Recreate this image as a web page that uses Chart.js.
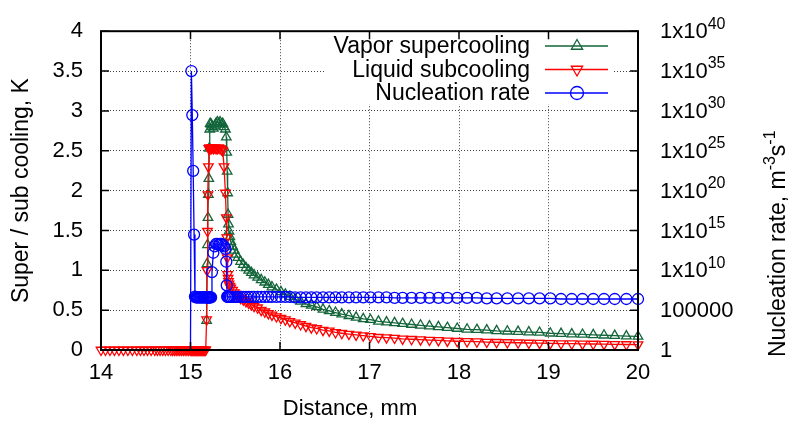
<!DOCTYPE html>
<html lang="en">
<head>
<meta charset="UTF-8">
<title>Super / sub cooling and nucleation rate</title>
<style>
  html, body { margin: 0; padding: 0; background: #ffffff; }
</style>
</head>
<body>
<canvas id="coolChart" width="790" height="421"></canvas>

<script src="https://cdn.jsdelivr.net/npm/chart.js@4.4.1/dist/chart.umd.min.js"></script>
<script>
  // distance along the nozzle, mm (mesh is refined around the condensation front)
  const distance = [
    14.00, 14.05, 14.10, 14.15, 14.20, 14.25, 14.30, 14.35, 14.40, 14.44,
    14.48, 14.52, 14.56, 14.60, 14.63, 14.66, 14.69, 14.72, 14.75, 14.78,
    14.80, 14.82, 14.84, 14.86, 14.88, 14.90, 14.92, 14.94, 14.96, 14.98,
    15.00, 15.01, 15.02, 15.03, 15.04, 15.05, 15.06, 15.07, 15.08, 15.09,
    15.10, 15.11, 15.12, 15.13, 15.14, 15.15, 15.16, 15.17, 15.18,
    15.185, 15.19, 15.195, 15.20, 15.205, 15.21, 15.215, 15.22,
    15.23, 15.24, 15.255, 15.27, 15.285, 15.30, 15.315, 15.33, 15.345, 15.36,
    15.375, 15.39, 15.40, 15.405, 15.41, 15.415, 15.42, 15.425, 15.43, 15.44,
    15.45, 15.47, 15.49, 15.51, 15.53, 15.56, 15.59, 15.62, 15.65, 15.68,
    15.71, 15.75, 15.79, 15.83, 15.87, 15.91, 15.96, 16.01, 16.06, 16.11,
    16.17, 16.23, 16.29, 16.35, 16.41, 16.48, 16.55, 16.62, 16.69, 16.77,
    16.85, 16.93, 17.01, 17.10, 17.19, 17.28, 17.37, 17.47, 17.57, 17.67,
    17.77, 17.87, 17.98, 18.09, 18.20, 18.31, 18.42, 18.54, 18.66, 18.78,
    18.90, 19.02, 19.14, 19.26, 19.38, 19.50, 19.62, 19.74, 19.87, 20.00
  ];

  // K
  const vaporSupercooling = [
    null, null, null, null, null, null, null, null, null, null,
    null, null, null, null, null, null, null, null, null, null,
    null, null, null, null, null, null, null, null, null, null,
    null, null, null, null, null, null, null, null, null, null,
    null, null, null, null, null, null, null, null, 0.37,
    1.08, 1.32, 1.66, 1.95, 2.15, 2.53, 2.77, 2.84,
    2.83, 2.80, 2.78, 2.81, 2.84, 2.86, 2.84, 2.86, 2.83, 2.84,
    2.80, 2.77, 2.67, 2.48, 2.24, 1.97, 1.70, 1.58, 1.49, 1.42,
    1.36, 1.30, 1.25, 1.20, 1.16, 1.11, 1.07, 1.03, 1.00, 0.97,
    0.94, 0.91, 0.88, 0.85, 0.82, 0.79, 0.76, 0.73, 0.70, 0.67,
    0.64, 0.61, 0.58, 0.56, 0.54, 0.51, 0.49, 0.47, 0.45, 0.43,
    0.41, 0.39, 0.38, 0.36, 0.35, 0.34, 0.33, 0.32, 0.31, 0.30,
    0.29, 0.28, 0.27, 0.26, 0.255, 0.25, 0.24, 0.235, 0.23, 0.225,
    0.22, 0.21, 0.205, 0.20, 0.195, 0.19, 0.185, 0.18, 0.175, 0.17
  ];

  // K
  const liquidSubcooling = [
    0, 0, 0, 0, 0, 0, 0, 0, 0, 0,
    0, 0, 0, 0, 0, 0, 0, 0, 0, 0,
    0, 0, 0, 0, 0, 0, 0, 0, 0, 0,
    0, 0, 0, 0, 0, 0, 0, 0, 0, 0,
    0, 0, 0, 0, 0, 0, 0, 0, 0.38,
    1.00, 1.49, 1.95, 2.30, 2.53, 2.53, 2.54, 2.53,
    2.53, 2.54, 2.53, 2.54, 2.53, 2.53, 2.54, 2.53, 2.52, 2.50,
    2.30, 1.97, 1.66, 1.41, 1.16, 0.95, 0.90, 0.86, 0.83, 0.80,
    0.78, 0.75, 0.72, 0.70, 0.68, 0.65, 0.63, 0.61, 0.59, 0.57,
    0.55, 0.53, 0.50, 0.48, 0.46, 0.44, 0.42, 0.40, 0.38, 0.36,
    0.34, 0.32, 0.30, 0.28, 0.27, 0.25, 0.24, 0.22, 0.21, 0.20,
    0.19, 0.18, 0.17, 0.16, 0.155, 0.15, 0.14, 0.135, 0.13, 0.125,
    0.12, 0.115, 0.11, 0.107, 0.104, 0.10, 0.097, 0.094, 0.091, 0.088,
    0.086, 0.083, 0.081, 0.079, 0.077, 0.075, 0.073, 0.071, 0.069, 0.067
  ];

  // m^-3 s^-1
  const nucleationRate = [
    null, null, null, null, null, null, null, null, null, null,
    null, null, null, null, null, null, null, null, null, null,
    null, null, null, null, null, null, null, null, null, null,
    1, 1e35, 3e29, 3e22, 3e14, 5e6, 4e6, 4e6, 4e6, 4e6,
    4e6, 4e6, 4e6, 4e6, 4e6, 4e6, 4e6, 4e6, 4e6,
    4e6, 4e6, 4e6, 4e6, 4e6, 4e6, 4e6, 4e6,
    4e6, 6e9, 1.6e12, 1e13, 2e13, 2e13, 1.5e13, 2e13, 2e13, 1.5e13,
    1e13, 5e12, 1.2e11, 1.3e8, 5e6, 4.5e6, 4.5e6, 4.5e6, 4.5e6, 4.5e6,
    4.5e6, 4.5e6, 4.5e6, 4.5e6, 4.5e6, 4.5e6, 4.5e6, 4.5e6, 4.5e6, 4.5e6,
    4.5e6, 4.5e6, 4.5e6, 4.5e6, 4.5e6, 4.5e6, 4.5e6, 4.5e6, 4.5e6, 4.5e6,
    4e6, 4e6, 4e6, 4e6, 4e6, 4e6, 4e6, 4e6, 4e6, 4e6,
    4e6, 4e6, 4e6, 4e6, 4e6, 3.5e6, 3.5e6, 3.5e6, 3.5e6, 3.5e6,
    3.5e6, 3.5e6, 3.5e6, 3.5e6, 3.5e6, 3e6, 3e6, 3e6, 3e6, 3e6,
    3e6, 3e6, 2.5e6, 2.5e6, 2.5e6, 2.5e6, 2.5e6, 2.5e6, 2.5e6, 2.5e6
  ];

  const nucleationTicks = [1, 1e5, 1e10, 1e15, 1e20, 1e25, 1e30, 1e35, 1e40];

  const FONT = "'Liberation Sans', Arial, Helvetica, sans-serif";
  const GREEN = '#13653a';

  function toPoints(values) {
    return distance.map((x, i) => ({ x: x, y: values[i] })).filter(p => p.y !== null);
  }

  function drawMarker(ctx, style, rotation, x, y, r) {
    ctx.beginPath();
    if (style === 'circle') {
      ctx.arc(x, y, r, 0, Math.PI * 2);
    } else {
      let rad = rotation * Math.PI / 180;
      for (let k = 0; k < 3; k++) {
        const px = x + Math.sin(rad) * r, py = y - Math.cos(rad) * r;
        if (k === 0) ctx.moveTo(px, py); else ctx.lineTo(px, py);
        rad += 2 * Math.PI / 3;
      }
      ctx.closePath();
    }
    ctx.stroke();
  }

  // gnuplot-like decorations: key, inward ticks, frame, y2 labels, axis titles
  const decorations = {
    id: 'decorations',
    afterDatasetsDraw(chart) {
      const { ctx, chartArea: a, scales } = chart;
      ctx.save();

      // key with opaque background
      ctx.fillStyle = '#ffffff';
      ctx.fillRect(324, 30, 290, 74);
      ctx.font = '23px ' + FONT;
      ctx.textAlign = 'right';
      ctx.textBaseline = 'middle';
      chart.data.datasets.forEach((ds, i) => {
        const y = 46 + i * 23.5;
        ctx.fillStyle = '#000';
        ctx.fillText(ds.label, 530, y + 1);
        ctx.strokeStyle = ds.borderColor;
        ctx.lineWidth = 1.3;
        ctx.beginPath();
        ctx.moveTo(545, y);
        ctx.lineTo(608, y);
        ctx.stroke();
        drawMarker(ctx, ds.pointStyle, ds.pointRotation || 0, 577, y, 6.5);
      });

      // inward tick marks
      ctx.strokeStyle = '#000';
      ctx.lineWidth = 1.5;
      ctx.beginPath();
      scales.x.ticks.forEach(t => {
        const px = scales.x.getPixelForValue(t.value);
        ctx.moveTo(px, a.bottom); ctx.lineTo(px, a.bottom - 8);
        ctx.moveTo(px, a.top); ctx.lineTo(px, a.top + 8);
      });
      scales.y.ticks.forEach(t => {
        const py = scales.y.getPixelForValue(t.value);
        ctx.moveTo(a.left, py); ctx.lineTo(a.left + 8, py);
      });
      scales.y2.ticks.forEach(t => {
        const py = scales.y2.getPixelForValue(t.value);
        ctx.moveTo(a.right, py); ctx.lineTo(a.right - 8, py);
      });
      ctx.stroke();

      // frame
      ctx.lineWidth = 2;
      ctx.strokeRect(a.left, a.top, a.right - a.left, a.bottom - a.top);

      // right axis labels with superscript exponents
      ctx.fillStyle = '#000';
      ctx.textAlign = 'left';
      ctx.textBaseline = 'middle';
      scales.y2.ticks.forEach(t => {
        const py = scales.y2.getPixelForValue(t.value) + 1;
        const e = Math.round(Math.log10(t.value));
        const x0 = a.right + 22;
        ctx.font = '22px ' + FONT;
        if (e === 0) { ctx.fillText('1', x0, py); return; }
        if (e === 5) { ctx.fillText('100000', x0, py); return; }
        ctx.fillText('1x10', x0, py);
        const w = ctx.measureText('1x10').width;
        ctx.font = '16px ' + FONT;
        ctx.fillText(String(e), x0 + w, py - 8);
      });

      // axis titles
      ctx.font = '23px ' + FONT;
      ctx.textAlign = 'center';
      ctx.textBaseline = 'middle';
      ctx.save();
      ctx.translate(22, (a.top + a.bottom) / 2);
      ctx.rotate(-Math.PI / 2);
      ctx.fillText('Super / sub cooling, K', 0, 0);
      ctx.restore();

      ctx.font = '22px ' + FONT;
      ctx.fillText('Distance, mm', 350, 409);

      ctx.save();
      ctx.translate(779, 357);
      ctx.rotate(-Math.PI / 2);
      ctx.textAlign = 'left';
      let w = 0;
      const parts = [['Nucleation rate, m', 23, 0], ['-3', 16, -8], ['s', 23, 0], ['-1', 16, -8]];
      parts.forEach(([txt, size, dy]) => {
        ctx.font = size + 'px ' + FONT;
        ctx.fillText(txt, w, dy);
        w += ctx.measureText(txt).width;
      });
      ctx.restore();

      ctx.restore();
    }
  };

  const tickFont = { family: FONT, size: 22 };
  const gridColor = 'rgba(0, 0, 0, 0.75)';

  new Chart(document.getElementById('coolChart'), {
    type: 'line',
    data: {
      datasets: [
        {
          label: 'Vapor supercooling',
          data: toPoints(vaporSupercooling),
          yAxisID: 'y',
          borderColor: GREEN,
          pointBorderColor: GREEN,
          pointStyle: 'triangle',
          order: 3
        },
        {
          label: 'Liquid subcooling',
          data: toPoints(liquidSubcooling),
          yAxisID: 'y',
          borderColor: '#ff0000',
          pointBorderColor: '#ff0000',
          pointStyle: 'triangle',
          pointRotation: 180,
          order: 2
        },
        {
          label: 'Nucleation rate',
          data: toPoints(nucleationRate),
          yAxisID: 'y2',
          borderColor: '#0000ff',
          pointBorderColor: '#0000ff',
          pointStyle: 'circle',
          pointRadius: ctx => (ctx.raw && ctx.raw.y <= 1 ? 0 : 5.5),
          order: 1
        }
      ].map(ds => Object.assign({
        borderWidth: 1.3,
        pointRadius: 5.5,
        pointBorderWidth: 1.3,
        pointBackgroundColor: 'rgba(0, 0, 0, 0)',
        backgroundColor: 'rgba(0, 0, 0, 0)',
        tension: 0,
        fill: false,
        clip: false
      }, ds))
    },
    options: {
      responsive: false,
      animation: false,
      events: [],
      layout: { padding: { top: 28, left: 0, right: 0, bottom: 0 } },
      plugins: {
        legend: { display: false },
        tooltip: { enabled: false }
      },
      scales: {
        x: {
          type: 'linear',
          position: 'bottom',
          min: 14,
          max: 20,
          ticks: { stepSize: 1, color: '#000', font: tickFont, padding: 10, maxRotation: 0 },
          grid: { color: gridColor, lineWidth: 1, drawTicks: false },
          border: { display: false, dash: [1, 2] },
          afterFit: s => { s.height = 71; }
        },
        y: {
          type: 'linear',
          position: 'left',
          min: 0,
          max: 4,
          ticks: { stepSize: 0.5, color: '#000', font: tickFont, padding: 18, callback: v => String(v) },
          grid: { color: gridColor, lineWidth: 1, drawTicks: false },
          border: { display: false, dash: [1, 2] },
          afterFit: s => { s.width = 101; }
        },
        y2: {
          type: 'logarithmic',
          position: 'right',
          min: 1,
          max: 1e40,
          ticks: { display: false },
          grid: { display: false },
          border: { display: false },
          afterBuildTicks: s => { s.ticks = nucleationTicks.map(v => ({ value: v })); },
          afterFit: s => { s.width = 152; }
        }
      }
    },
    plugins: [decorations]
  });
</script>
</body>
</html>
